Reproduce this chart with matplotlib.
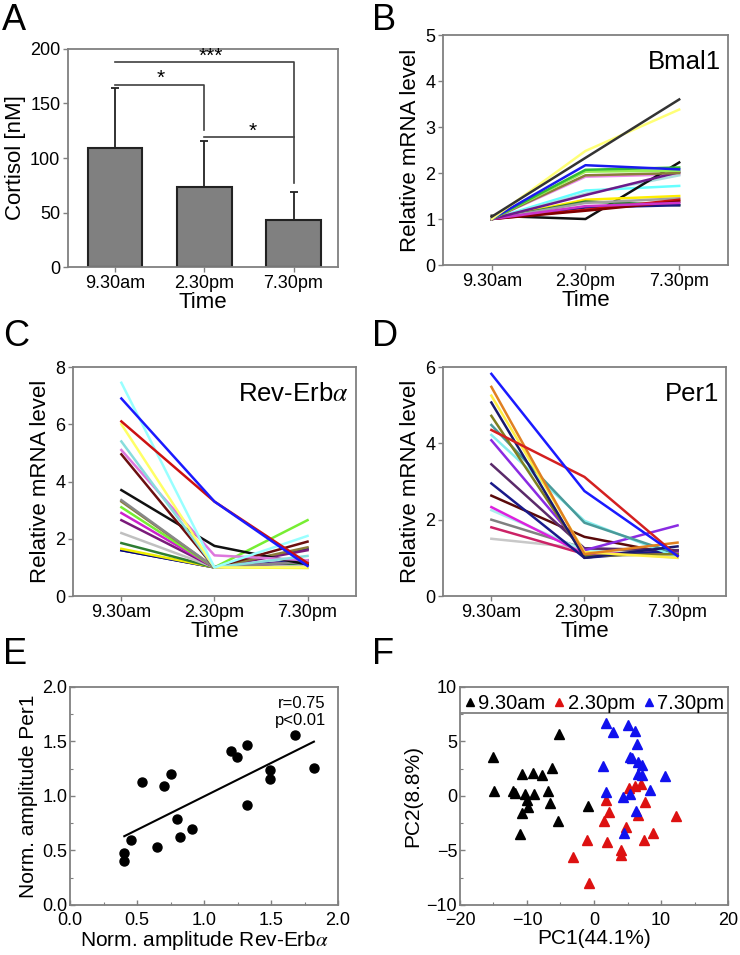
import numpy as np
import matplotlib
matplotlib.use('Agg')
import matplotlib.pyplot as plt
from matplotlib.ticker import MultipleLocator

plt.rcParams['font.family'] = ['Liberation Sans', 'DejaVu Sans']
plt.rcParams['mathtext.fontset'] = 'stix'

# ---- data ----
times = ['9.30am', '2.30pm', '7.30pm']

# A: cortisol
cortisol_mean = [109, 73, 43]
cortisol_err = [55, 43, 26]

# B: Bmal1 (one row per subject: 9.30am, 2.30pm, 7.30pm)
bmal1 = [[1.0, 1.92, 1.97], [1.0, 1.62, 1.72], [1.0, 1.55, 1.95],
         [1.07, 1.0, 2.23], [1.0, 1.42, 1.5], [1.0, 1.38, 1.3],
         [1.0, 1.35, 1.45], [1.0, 1.25, 1.3], [1.0, 1.2, 1.42],
         [1.0, 1.18, 1.38], [1.0, 1.28, 1.35], [1.0, 1.52, 2.02],
         [1.0, 1.95, 2.0], [1.0, 2.03, 2.05], [1.0, 2.07, 2.12],
         [1.0, 2.17, 2.08], [1.0, 2.48, 3.38], [1.05, 2.33, 3.6]]
bmal1_colors = ['#ee88ee', '#66ffff', '#aadddd', '#111111', '#ffee00', '#2e7d32',
                '#a0a0a0', '#1a1a80', '#cc1111', '#800000', '#cc33cc', '#6a1a8a',
                '#8b7d3a', '#99ee55', '#33bb33', '#1a1aee', '#ffff77', '#333333']

# C: Rev-Erb alpha
reverb = [[1.6, 1.0, 1.25], [1.6, 1.0, 1.65], [1.65, 1.0, 0.98], [1.85, 1.0, 1.15],
          [2.2, 1.0, 1.05], [2.65, 1.0, 1.6], [2.9, 1.0, 1.2], [3.1, 1.0, 2.65],
          [3.3, 1.0, 1.7], [3.35, 1.0, 1.2], [3.7, 1.75, 1.1], [4.95, 1.0, 1.9],
          [5.1, 1.42, 1.25], [5.4, 1.0, 1.4], [6.0, 1.0, 1.0], [7.45, 1.0, 2.1],
          [6.1, 3.3, 1.15], [6.9, 3.3, 1.05]]
reverb_colors = ['#1a237e', '#000080', '#eeee00', '#2e7d32', '#c0c0c0', '#7a1a7a',
                 '#cc22cc', '#77ee33', '#8b7d3a', '#888888', '#111111', '#6b0f0f',
                 '#dd77dd', '#88dddd', '#ffff66', '#99ffff', '#cc1111', '#1a1aff']

# D: Per1
per1 = [[1.5, 1.25, 1.1], [1.8, 1.1, 1.1], [2.0, 1.25, 1.15], [2.25, 1.2, 1.0],
        [2.33, 1.1, 1.15], [2.63, 1.55, 1.08], [2.95, 1.0, 1.2], [3.45, 1.25, 1.2],
        [4.08, 1.2, 1.85], [4.22, 1.97, 1.02], [4.48, 1.92, 1.1], [4.72, 1.05, 1.1],
        [5.07, 1.0, 1.3], [5.25, 1.15, 1.0], [5.48, 1.1, 1.4], [4.35, 3.12, 1.05],
        [5.82, 2.75, 1.05]]
per1_colors = ['#c8c8c8', '#cc2266', '#808080', '#aaeeee', '#dd22dd', '#5a0a0a',
               '#1a1a8a', '#5a2a6a', '#8a2be2', '#88eeee', '#4a9a9a', '#7f7f20',
               '#1a1a6e', '#ffee44', '#e08020', '#d42020', '#1a1aff']

# E: amplitudes
amp_reverb = [0.405, 0.405, 0.455, 0.54, 0.65, 0.70, 0.755, 0.795, 0.82,
              0.91, 1.20, 1.245, 1.32, 1.32, 1.49, 1.49, 1.68, 1.82]
amp_per1 = [0.477, 0.40, 0.60, 1.13, 0.53, 1.09, 1.20, 0.785, 0.62,
            0.70, 1.415, 1.36, 1.47, 0.92, 1.24, 1.16, 1.56, 1.26]

# F: PCA scores
pc_am_x = [-15.0, -14.9, -12.1, -11.8, -10.7, -10.3, -10.0, -9.8, -10.7, -11.0,
           -9.1, -8.9, -7.8, -6.9, -6.3, -6.5, -5.3, -5.2, -0.9]
pc_am_y = [3.57, 0.46, 0.46, 0.27, 1.98, 0.15, -0.34, -1.0, -1.56, -3.51,
           2.14, 0.21, 1.89, 0.46, 2.6, -0.61, -2.29, 5.71, -0.89]
pc_mid_x = [-3.2, -1.0, -0.8, 1.8, 1.5, 2.3, 1.9, 4.0, 4.0, 4.8, 5.2, 6.1,
            7.0, 6.5, 7.6, 7.5, 8.8, 12.3]
pc_mid_y = [-5.59, -4.0, -7.97, -0.4, -2.32, -1.47, -4.27, -4.98, -5.43, -2.84,
            0.76, 0.89, 1.1, -1.77, -0.55, -4.06, -3.39, -1.83]
pc_pm_x = [1.8, 2.9, 5.0, 6.1, 6.4, 1.3, 5.4, 5.7, 6.6, 7.1, 6.6, 7.1, 10.6,
           1.8, 4.4, 5.4, 8.3, 6.2, 4.5]
pc_pm_y = [6.69, 5.83, 6.53, 5.92, 4.73, 2.72, 3.57, 3.51, 3.15, 2.84, 2.05,
           1.89, 1.8, 0.37, -0.09, 0.18, 0.52, -1.40, -3.39]

SPINE = '#808080'
TICK_FS = 13
LAB_FS = 16

fig = plt.figure(figsize=(7.4, 9.55), dpi=100)


def style(ax, direction='out'):
    for s in ax.spines.values():
        s.set_color(SPINE)
        s.set_linewidth(1.3)
    ax.tick_params(which='both', direction=direction, color=SPINE,
                   labelsize=TICK_FS, pad=2)
    ax.tick_params(which='major', length=3.5, width=1)
    ax.tick_params(which='minor', length=2.5, width=0.8)


# ---- A ----
axA = fig.add_axes([0.0919, 0.7204, 0.365, 0.2283])
x = np.arange(len(times))
axA.bar(x, cortisol_mean, width=0.61, color='#808080', edgecolor='#222222',
        linewidth=1.5, zorder=2)
axA.errorbar(x, cortisol_mean, yerr=[[0, 0, 0], cortisol_err], fmt='none',
             ecolor='#222222', elinewidth=1.3, capsize=3, capthick=1.3, zorder=1)
br = '#404040'
axA.plot([0, 2, 2], [188, 188, 77], color=br, lw=1.2)
axA.plot([0, 1, 1], [167, 167, 126], color=br, lw=1.2)
axA.plot([1, 2], [119, 119], color=br, lw=1.2)
axA.text(1.07, 185, '***', ha='center', va='bottom', fontsize=15)
axA.text(0.51, 164, '*', ha='center', va='bottom', fontsize=15)
axA.text(1.54, 116, '*', ha='center', va='bottom', fontsize=15)
axA.set_xlim(-0.53, 2.5)
axA.set_ylim(0, 200)
axA.set_yticks([0, 50, 100, 150, 200])
axA.set_xticks(x)
axA.set_xticklabels(times)
style(axA)
axA.set_ylabel('Cortisol [nM]', fontsize=LAB_FS, labelpad=3)
axA.set_xlabel('Time', fontsize=LAB_FS, labelpad=0)


def lines_panel(rect, data, colors, ylim, yticks, name):
    ax = fig.add_axes(rect)
    for row, c in zip(data, colors):
        ax.plot(x, row, color=c, lw=1.8)
    ax.set_xlim(-0.52, 2.52)
    ax.set_ylim(*ylim)
    ax.set_yticks(yticks)
    ax.set_xticks(x)
    ax.set_xticklabels(times)
    style(ax)
    ax.set_ylabel('Relative mRNA level', fontsize=LAB_FS, labelpad=3)
    ax.set_xlabel('Time', fontsize=LAB_FS, labelpad=0)
    ax.text(0.975, 0.935, name, transform=ax.transAxes, ha='right', va='top',
            fontsize=18.5)
    return ax


lines_panel([0.5986, 0.7225, 0.3851, 0.2408], bmal1, bmal1_colors,
            (0, 5), [0, 1, 2, 3, 4, 5], 'Bmal1')
lines_panel([0.0986, 0.3759, 0.3824, 0.2398], reverb, reverb_colors,
            (0, 8), [0, 2, 4, 6, 8], r'Rev-Erb$\alpha$')
lines_panel([0.5986, 0.3759, 0.3824, 0.2398], per1, per1_colors,
            (0, 6), [0, 2, 4, 6], 'Per1')

# ---- E ----
axE = fig.add_axes([0.0946, 0.0524, 0.3622, 0.2283])
axE.plot(amp_reverb, amp_per1, 'o', color='black', ms=6.5)
slope, icpt = np.polyfit(amp_reverb, amp_per1, 1)
xf = np.array([min(amp_reverb), max(amp_reverb)])
axE.plot(xf, slope * xf + icpt, color='black', lw=1.5)
axE.set_xlim(0, 2)
axE.set_ylim(0, 2)
axE.xaxis.set_major_locator(MultipleLocator(0.5))
axE.yaxis.set_major_locator(MultipleLocator(0.5))
axE.xaxis.set_minor_locator(MultipleLocator(0.25))
axE.yaxis.set_minor_locator(MultipleLocator(0.25))
axE.xaxis.set_major_formatter(lambda v, p: f'{v:.1f}')
axE.yaxis.set_major_formatter(lambda v, p: f'{v:.1f}')
style(axE, 'in')
axE.tick_params(axis='x', pad=5)
axE.text(0.955, 0.96, 'r=0.75\np<0.01', transform=axE.transAxes, ha='right',
         va='top', fontsize=12, linespacing=1.2)
axE.set_xlabel(r'Norm. amplitude Rev-Erb$\alpha$', fontsize=15, labelpad=0)
axE.set_ylabel('Norm. amplitude Per1', fontsize=15, labelpad=3)

# ---- F ----
axF = fig.add_axes([0.6216, 0.0524, 0.3622, 0.2283])
axF.plot(pc_am_x, pc_am_y, '^', color='black', ms=7.5, label='9.30am')
axF.plot(pc_mid_x, pc_mid_y, '^', color='#dd1111', ms=7.5, label='2.30pm')
axF.plot(pc_pm_x, pc_pm_y, '^', color='#1111ee', ms=7.5, label='7.30pm')
axF.axhline(7.6, color=SPINE, lw=1.3)
axF.legend(loc='upper center', bbox_to_anchor=(0.5, 1.025), ncol=3, frameon=False,
           fontsize=14.5, handlelength=0.6, handletextpad=0.1, columnspacing=0.4,
           markerscale=0.85, borderaxespad=0.2)
axF.set_xlim(-20, 20)
axF.set_ylim(-10, 10)
axF.xaxis.set_major_locator(MultipleLocator(10))
axF.xaxis.set_minor_locator(MultipleLocator(5))
axF.yaxis.set_major_locator(MultipleLocator(5))
axF.yaxis.set_minor_locator(MultipleLocator(2.5))
style(axF, 'in')
axF.tick_params(axis='x', pad=5)
axF.set_xlabel('PC1(44.1%)', fontsize=15, labelpad=0)
axF.set_ylabel('PC2(8.8%)', fontsize=15, labelpad=3)

# panel letters
for lab, px, py in [('A', 2, 30), ('B', 372, 30), ('C', 3, 346),
                    ('D', 372, 346), ('E', 3, 664), ('F', 372, 664)]:
    fig.text(px / 740, 1 - py / 955, lab, fontsize=26, ha='left', va='baseline')

fig.savefig('out.png', dpi=100)
